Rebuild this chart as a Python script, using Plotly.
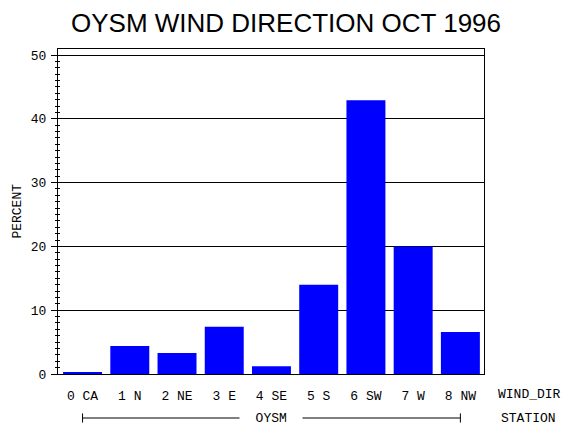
import plotly.graph_objects as go

# values
WIND_DIR = ["0 CA", "1 N", "2 NE", "3 E", "4 SE", "5 S", "6 SW", "7 W", "8 NW"]
PERCENT = [0.3, 4.4, 3.3, 7.4, 1.2, 14.0, 42.9, 20.0, 6.6]
STATION = "OYSM"
Y_TICKS = [0, 10, 20, 30, 40, 50]

MONO = "Liberation Mono"
SANS = "Liberation Sans"

# the page body adds an 8px margin, so the figure is drawn 8px smaller
FIG_W, FIG_H = 562, 422


def make_wind_bar_chart():
    xs = list(range(len(WIND_DIR)))
    fig = go.Figure()
    fig.add_trace(
        go.Bar(x=xs, y=PERCENT, width=0.825, marker=dict(color="#0000ff", line=dict(width=0)), showlegend=False)
    )
    # invisible trace so the overlay axis (inside ticks) gets drawn
    fig.add_trace(go.Scatter(x=[xs[0]], y=[0], yaxis="y2", mode="markers", marker=dict(opacity=0), showlegend=False, hoverinfo="skip"))

    axis_font = dict(family=MONO, size=13, color="black")
    fig.update_layout(
        width=FIG_W,
        height=FIG_H,
        margin=dict(l=50, r=86, t=41, b=56),
        paper_bgcolor="white",
        plot_bgcolor="white",
        title=dict(
            text=f"{STATION} WIND DIRECTION OCT 1996",
            x=(286 - 8 - 50) / 426,
            xanchor="center",
            xref="paper",
            y=1 - 15 / FIG_H,
            yanchor="middle",
            yref="container",
            font=dict(family=SANS, size=26, color="black"),
        ),
        xaxis=dict(
            range=[-0.52, 8.5],
            tickvals=xs,
            ticktext=WIND_DIR,
            ticks="",
            tickfont=axis_font,
            ticklabelstandoff=9,
            showgrid=False,
            zeroline=False,
            showline=True,
            linecolor="black",
            linewidth=1,
            mirror=True,
        ),
        yaxis=dict(
            range=[0, 50.94],
            tickvals=Y_TICKS,
            ticks="outside",
            ticklen=6,
            tickcolor="black",
            tickwidth=1,
            minor=dict(dtick=1, ticks="outside", ticklen=2, tickcolor="black", tickwidth=1),
            tickfont=axis_font,
            ticklabelstandoff=2,
            showgrid=True,
            gridcolor="black",
            gridwidth=1,
            zeroline=False,
            showline=True,
            linecolor="black",
            linewidth=1,
            mirror=True,
        ),
        yaxis2=dict(
            overlaying="y",
            side="left",
            range=[0, 50.94],
            tickvals=Y_TICKS,
            ticks="inside",
            ticklen=5,
            tickcolor="black",
            minor=dict(dtick=1, ticks="inside", ticklen=2, tickcolor="black", tickwidth=1),
            showticklabels=False,
            showgrid=False,
            zeroline=False,
        ),
    )

    label_font = dict(family=MONO, size=13, color="black")
    fig.add_annotation(
        text="PERCENT", textangle=-90, xref="paper", yref="paper", x=-0.096, y=0.5,
        xanchor="center", yanchor="middle", showarrow=False, font=label_font,
    )
    fig.add_annotation(
        text="WIND_DIR", xref="paper", yref="paper", x=(496 - 58) / 426, y=-20 / 325,
        xanchor="left", yanchor="middle", showarrow=False, font=label_font,
    )
    fig.add_annotation(
        text="STATION", xref="paper", yref="paper", x=(499 - 58) / 426, y=-44 / 325,
        xanchor="left", yanchor="middle", showarrow=False, font=label_font,
    )

    # station bracket spanning the first to last bar
    y_br = -44 / 325
    fig.add_shape(type="line", xref="x", yref="paper", x0=xs[0], x1=xs[-1], y0=y_br, y1=y_br, line=dict(color="black", width=1))
    for xe in (xs[0], xs[-1]):
        fig.add_shape(type="line", xref="x", yref="paper", x0=xe, x1=xe, y0=y_br - 0.014, y1=y_br + 0.014, line=dict(color="black", width=1))
    fig.add_annotation(
        text="  " + STATION + "  ", xref="x", yref="paper", x=(xs[0] + xs[-1]) / 2, y=y_br,
        xanchor="center", yanchor="middle", showarrow=False, font=label_font, bgcolor="white", borderpad=0,
    )
    return fig


fig = make_wind_bar_chart()
fig.write_html("out.html")
